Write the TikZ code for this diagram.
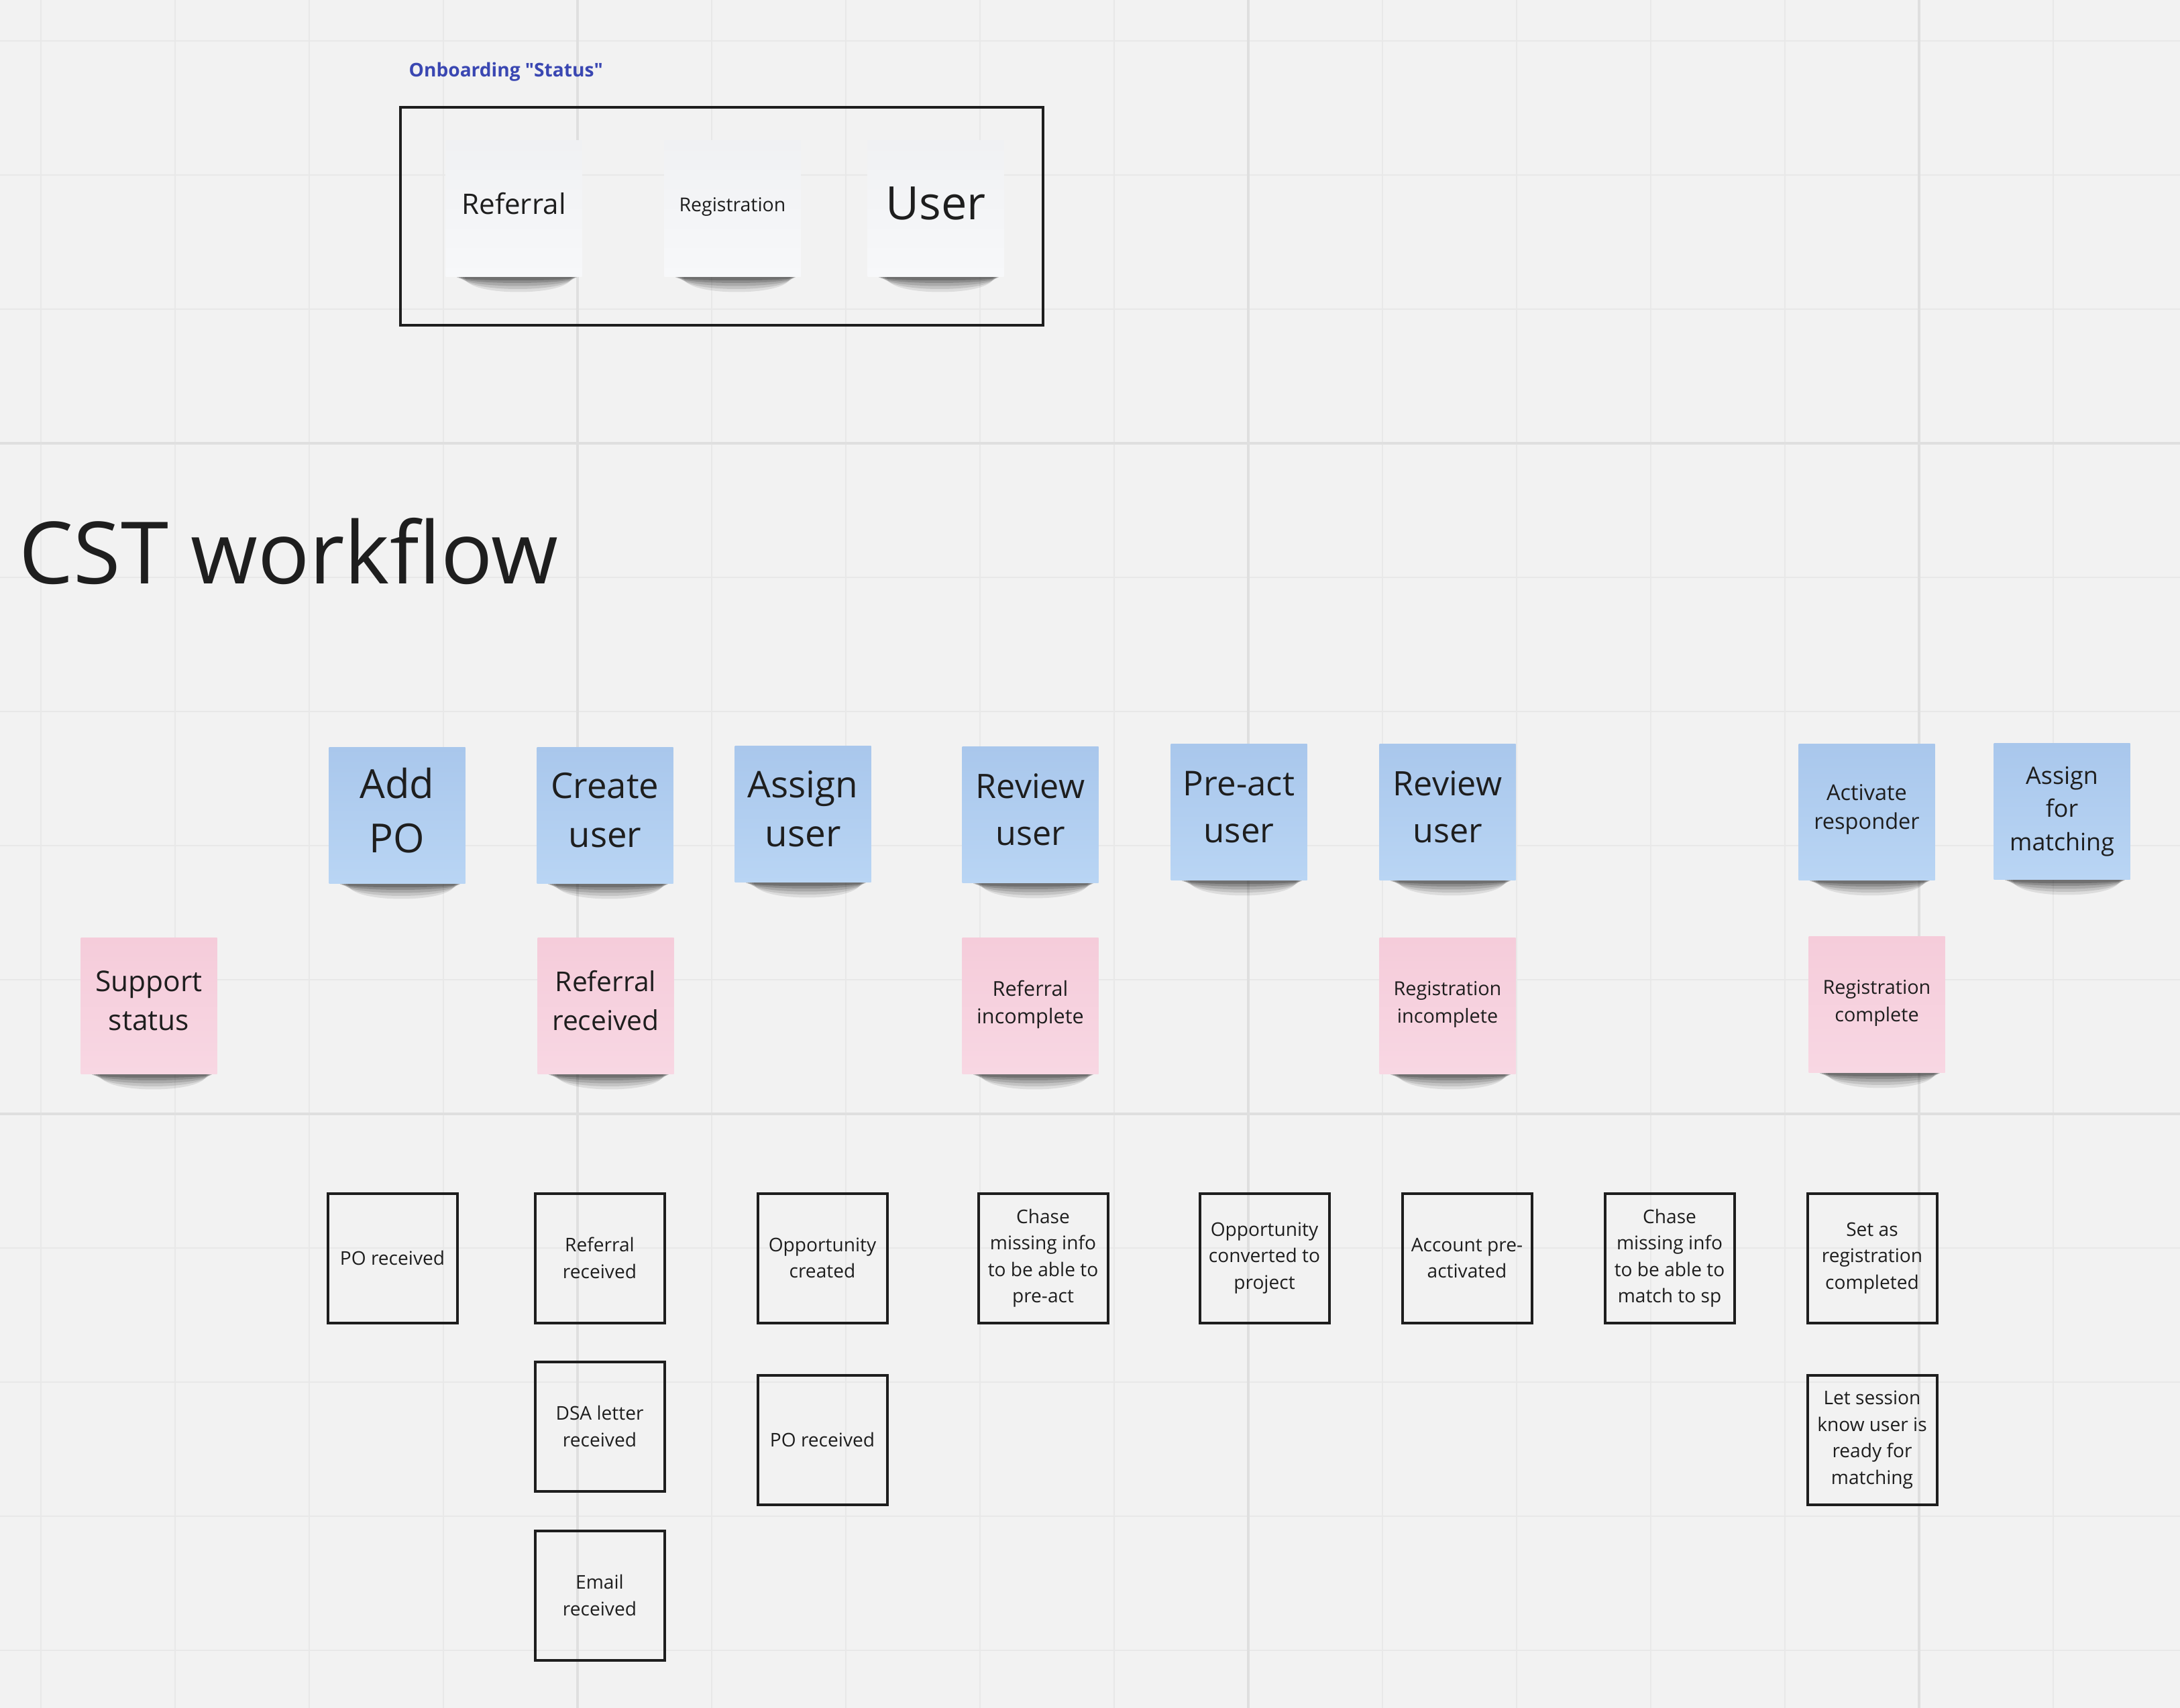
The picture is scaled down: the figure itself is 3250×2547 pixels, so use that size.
\documentclass[tikz,border=0pt]{standalone}
\usepackage{fontspec}
\setmainfont{Open Sans}[Ligatures=TeXOff]
\usepackage{tikz}
\usepackage{xcolor}
\usetikzlibrary{calc}

\definecolor{boardbg}{HTML}{F2F2F2}
\definecolor{gridln}{HTML}{E8E8E8}
\definecolor{gridmaj}{HTML}{DFDFDF}
\definecolor{bluetop}{HTML}{A9C7EC}
\definecolor{bluebot}{HTML}{B9D5F4}
\definecolor{pinktop}{HTML}{F5CCDA}
\definecolor{pinkbot}{HTML}{F8D7E3}
\definecolor{whitetop}{HTML}{F0F1F3}
\definecolor{whitebot}{HTML}{F7F8FA}
\definecolor{titleblue}{HTML}{3A47B2}
\definecolor{inkdark}{HTML}{1E1E1E}

% soft shadow under the lower edge of a sticky note
\newcommand{\curlshadow}[1]{%
  \foreach \d/\o in {30/0.09,24/0.11,18/0.13,12/0.16,7/0.2}{
    \fill[black,opacity=\o] ($(#1.south west)+(14+\d/2,0)$) -- ($(#1.south east)+(-6-\d/3,0)$)
      .. controls ($(#1.south east)+(-6-\d/3,\d)$) and ($(#1.south west)+(14+\d/2,\d)$) .. cycle;
  }}

\begin{document}
\begin{tikzpicture}[x=0.1mm,y=-0.1mm,
    sticky/.style={minimum width=20.3mm,minimum height=20.3mm,inner sep=1mm,align=center,text=inkdark},
    bluenote/.style={sticky,top color=bluetop,bottom color=bluebot},
    pinknote/.style={sticky,top color=pinktop,bottom color=pinkbot},
    whitenote/.style={sticky,top color=whitetop,middle color=whitebot,bottom color=whitebot},
    bigtxt/.style={font=\fontsize{14.3}{19.9}\selectfont,text depth=4.6pt},
    midtxt/.style={font=\fontsize{11.6}{16.5}\selectfont,text depth=4.6pt},
    smalltxt/.style={font=\fontsize{8.2}{11.7}\selectfont,text depth=3.2pt},
    evbox/.style={draw=inkdark,line width=0.4mm,minimum width=19.3mm,minimum height=19.3mm,
        inner sep=0.5mm,align=center,text=inkdark,font=\fontsize{8}{11.2}\selectfont}]
    \useasboundingbox (0,0) rectangle (3250,2547);
    % board and grid
    \fill[boardbg] (0,0) rectangle (3250,2547);
    \foreach \k in {0,...,15}{
        \draw[gridln,line width=0.25mm] ({61+200*\k},0) -- ({61+200*\k},2547);
    }
    \foreach \k in {0,...,12}{
        \draw[gridln,line width=0.25mm] (0,{61+200*\k}) -- (3250,{61+200*\k});
    }
    \foreach \g in {861,1861,2861}{
        \draw[gridmaj,line width=0.35mm] (\g,0) -- (\g,2547);
    }
    \foreach \g in {661,1661}{
        \draw[gridmaj,line width=0.35mm] (0,\g) -- (3250,\g);
    }

    % onboarding status
    \node[anchor=base west,inner sep=0,text=titleblue,font=\bfseries\fontsize{8}{10}\selectfont]
        (statustitle) at (609,115) {Onboarding "Status"};
    \draw[inkdark,line width=0.45mm] (597,160) rectangle (1555,485);
    \node[whitenote,font=\fontsize{12}{16}\selectfont,text depth=4.6pt] (stref) at (766,311) {Referral};
    \node[whitenote,font=\fontsize{8.1}{11}\selectfont,text depth=3.5pt] (streg) at (1092,311) {Registration};
    \node[whitenote,font=\fontsize{19.5}{26}\selectfont,text depth=4.6pt] (stuser) at (1395,311) {User};
    \foreach \n in {stref,streg,stuser}{\curlshadow{\n}}

    \node[anchor=base west,inner sep=0,text=inkdark,font=\fontsize{36.5}{44}\selectfont]
        (cstitle) at (28,870) {CST workflow};

    % actions
    \node[bluenote,bigtxt,font=\fontsize{17}{23}\selectfont] (addpo) at (592,1216) {Add\\PO};
    \node[bluenote,bigtxt,font=\fontsize{15}{20.8}\selectfont] (createuser) at (902,1216) {Create\\user};
    \node[bluenote,bigtxt,font=\fontsize{15.6}{20.8}\selectfont] (assignuser) at (1197,1214) {Assign\\user};
    \node[bluenote,bigtxt] (reviewuser) at (1536,1215) {Review\\user};
    \node[bluenote,bigtxt,font=\fontsize{14.5}{19.9}\selectfont] (preactuser) at (1847,1211) {Pre-act\\user};
    \node[bluenote,bigtxt] (reviewusertwo) at (2158,1211) {Review\\user};
    \node[bluenote,font=\fontsize{9.25}{12.4}\selectfont,text depth=4.5pt] (activate) at (2783,1211) {Activate\\responder};
    \node[bluenote,font=\fontsize{10.2}{14}\selectfont] (assignmatch) at (3074,1210) {Assign\\for\\matching};

    % support status
    \node[pinknote,midtxt,font=\fontsize{12.1}{16.5}\selectfont] (support) at (222,1500) {Support\\status};
    \node[pinknote,midtxt] (refrec) at (903,1500) {Referral\\received};
    \node[pinknote,smalltxt,font=\fontsize{8.7}{11.7}\selectfont] (refinc) at (1536,1500) {Referral\\incomplete};
    \node[pinknote,smalltxt] (reginc) at (2158,1500) {Registration\\incomplete};
    \node[pinknote,smalltxt] (regcomp) at (2798,1498) {Registration\\complete};

    \foreach \n in {addpo,createuser,assignuser,reviewuser,preactuser,reviewusertwo,activate,assignmatch,
        support,refrec,refinc,reginc,regcomp}{\curlshadow{\n}}

    % events
    \node[evbox] (poreca) at (585,1876) {PO received};
    \node[evbox] (refreca) at (894,1876) {Referral\\received};
    \node[evbox] (oppcreated) at (1226,1876) {Opportunity\\created};
    \node[evbox] (chasepre) at (1555,1876) {Chase\\missing info\\to be able to\\pre-act};
    \node[evbox] (oppconv) at (1885,1876) {Opportunity\\converted to\\project};
    \node[evbox] (accpre) at (2187,1876) {Account pre-\\activated};
    \node[evbox] (chasematch) at (2489,1876) {Chase\\missing info\\to be able to\\match to sp};
    \node[evbox] (setreg) at (2791,1876) {Set as\\registration\\completed};
    \node[evbox] (dsarec) at (894,2127) {DSA letter\\received};
    \node[evbox] (porecb) at (1226,2147) {PO received};
    \node[evbox] (letsession) at (2791,2147) {Let session\\know user is\\ready for\\matching};
    \node[evbox] (emailrec) at (894,2379) {Email\\received};
\end{tikzpicture}
\end{document}
